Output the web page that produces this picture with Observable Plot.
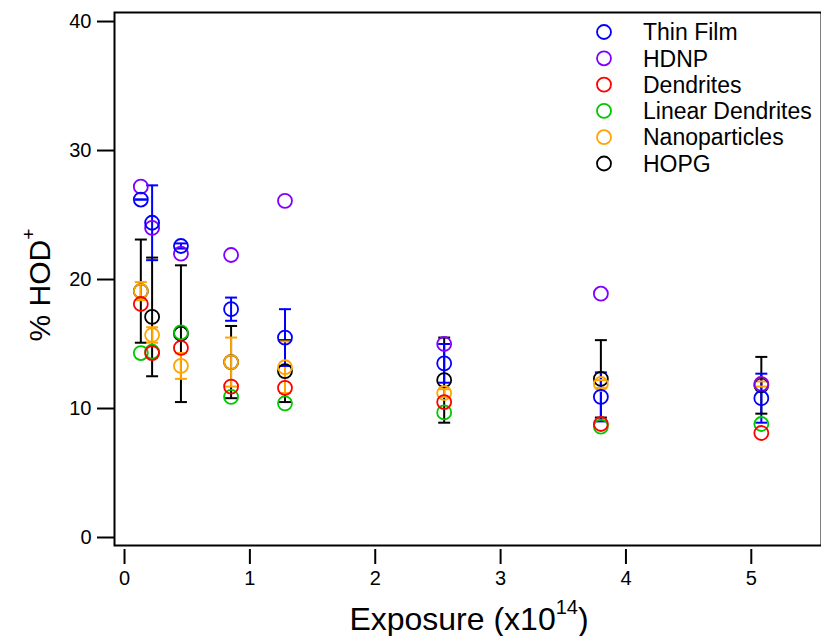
<!DOCTYPE html>
<html><head><meta charset="utf-8">
<script src="https://cdn.jsdelivr.net/npm/d3@7"></script>
<script src="https://cdn.jsdelivr.net/npm/@observablehq/plot@0.6"></script>
<style>body{margin:0;background:#fff}</style>
</head><body><div id="chart"></div>
<script>
// Exposure positions (x10^14)
const exposure = [0.13, 0.22, 0.45, 0.85, 1.28, 2.55, 3.80, 5.08];
const seriesNames = ["Thin Film", "HDNP", "Dendrites", "Linear Dendrites", "Nanoparticles", "HOPG"];
const seriesColors = ["#0000ff", "#8000ff", "#ff0000", "#00c800", "#ffa500", "#000000"];

const thinFilm = [26.2, 24.4, 22.6, 17.7, 15.5, 13.5, 10.9, 10.8];
const thinFilmErr = [0.0, 2.9, 0.2, 0.9, 2.2, 1.5, 1.9, 1.9];
const hdnp = [27.2, 24.0, 22.0, 21.9, 26.1, 15.0, 18.9, 11.9];
const dendrites = [18.1, 14.3, 14.7, 11.7, 11.6, 10.5, 8.8, 8.1];
const linearDendrites = [14.3, 14.4, 15.9, 10.9, 10.4, 9.7, 8.6, 8.8];
const nanoparticles = [19.1, 15.7, 13.3, 13.6, 13.2, 11.2, 11.9, 11.9];
const nanoparticlesErr = [0.7, 0.6, 1.0, 1.9, 2.0, 0.3, 0.3, 0.2];
const hopg = [19.1, 17.1, 15.8, 13.6, 12.9, 12.2, 12.3, 11.8];
const hopgErr = [4.0, 4.6, 5.3, 2.8, 2.4, 3.3, 3.0, 2.2];

const xTicks = [0, 1, 2, 3, 4, 5];
const yTicks = [0, 10, 20, 30, 40];

const seriesValues = [thinFilm, hdnp, dendrites, linearDendrites, nanoparticles, hopg];
const seriesErrs = [thinFilmErr, null, null, null, nanoparticlesErr, hopgErr];

const rows = seriesNames.flatMap((name, s) =>
  seriesValues[s].map((v, i) => ({name, x: exposure[i], y: v, err: seriesErrs[s] ? seriesErrs[s][i] : null})));
// draw in reverse legend order (first series ends up on top)
const drawRows = seriesNames.slice().reverse().flatMap(n => rows.filter(d => d.name === n));
const errRows = drawRows.filter(d => d.err != null);

const capSymbol = {draw(ctx, size) { const h = Math.sqrt(size / Math.PI); ctx.moveTo(-h, 0); ctx.lineTo(h, 0); }};
const font = "'Liberation Sans', Arial, Helvetica, sans-serif";

const plot = Plot.plot({
  width: 821, height: 636,
  marginLeft: 114, marginTop: 12, marginRight: 0, marginBottom: 91,
  style: {fontFamily: font, background: "#fff", color: "#000"},
  x: {domain: [-0.08, 5.56]},
  y: {domain: [-0.62, 40.7]},
  color: {domain: seriesNames, range: seriesColors},
  marks: [
    Plot.axisY(yTicks, {tickSize: 17, tickPadding: 6, fontSize: 20, strokeWidth: 2, tickFormat: d3.format("d"), label: null}),
    Plot.axisX(xTicks, {tickSize: 15, tickPadding: 6, fontSize: 20, strokeWidth: 2, dy: 4, tickFormat: d3.format("d"), label: null}),
    Plot.ruleX(errRows, {x: "x", y1: d => d.y - d.err, y2: d => d.y + d.err, stroke: "name", strokeWidth: 2}),
    Plot.dot(errRows, {x: "x", y: d => d.y + d.err, symbol: capSymbol, r: 6, stroke: "name", strokeWidth: 2}),
    Plot.dot(errRows, {x: "x", y: d => d.y - d.err, symbol: capSymbol, r: 6, stroke: "name", strokeWidth: 2}),
    Plot.dot(drawRows, {x: "x", y: "y", r: 7, stroke: "name", strokeWidth: 1.8, fill: "none"}),
    Plot.frame({stroke: "#000", strokeWidth: 2})
  ]
});

const svg = d3.select(plot);
// x title
const xt = svg.append("text").attr("x", 469).attr("y", 630).attr("text-anchor", "middle")
  .attr("font-family", font).attr("font-size", 32).attr("fill", "#000");
xt.append("tspan").text("Exposure (x10");
xt.append("tspan").attr("font-size", 20).attr("dy", -16).text("14");
xt.append("tspan").attr("dy", 16).text(")");
// y title
const yt = svg.append("text").attr("transform", "translate(50,285) rotate(-90)").attr("text-anchor", "middle")
  .attr("font-family", font).attr("font-size", 30).attr("fill", "#000");
yt.append("tspan").text("% HOD");
yt.append("tspan").attr("font-size", 19).attr("dy", -15).text("+");
// legend
const lg = svg.append("g").attr("font-family", font).attr("font-size", 23).attr("text-anchor", "start");
seriesNames.forEach((n, i) => {
  const cy = 32 + i * 26.3;
  lg.append("circle").attr("cx", 604).attr("cy", cy).attr("r", 7).attr("fill", "none")
    .attr("stroke", seriesColors[i]).attr("stroke-width", 1.8);
  lg.append("text").attr("x", 643).attr("y", cy).attr("dy", "0.36em").attr("fill", "#000").text(n);
});

document.getElementById("chart").appendChild(plot);
</script>
</body></html>
